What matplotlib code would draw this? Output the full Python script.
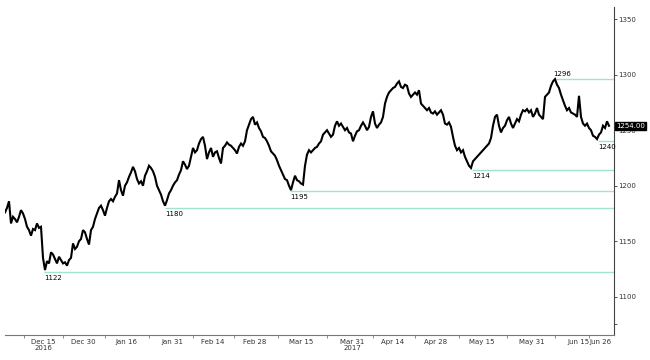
import matplotlib
matplotlib.use("Agg")
import matplotlib.pyplot as plt
import matplotlib.transforms as mtransforms
import numpy as np

# Price series (evenly spaced samples)
prices = [
    1176, 1180, 1186, 1166, 1172, 1170, 1167, 1172, 1178, 1175,
    1170, 1163, 1160, 1155, 1161, 1160, 1166, 1162, 1163, 1135,
    1124, 1132, 1130, 1140, 1138, 1134, 1130, 1136, 1133, 1130,
    1131, 1128, 1133, 1135, 1148, 1143, 1145, 1150, 1152, 1160,
    1158, 1152, 1147, 1160, 1163, 1170, 1175, 1180, 1182, 1178,
    1173, 1180, 1186, 1188, 1186, 1190, 1193, 1205, 1196, 1191,
    1200, 1203, 1208, 1212, 1217, 1213, 1206, 1202, 1204, 1200,
    1209, 1213, 1218, 1216, 1213, 1208, 1200, 1196, 1192, 1186,
    1182, 1187, 1193, 1196, 1200, 1203, 1205, 1210, 1214, 1222,
    1219, 1215, 1218, 1226, 1234, 1230, 1232, 1238, 1242, 1244,
    1236, 1224, 1230, 1234, 1226, 1230, 1231, 1225, 1220, 1234,
    1236, 1239, 1237, 1236, 1234, 1232, 1229, 1235, 1238, 1236,
    1240, 1250, 1255, 1260, 1262, 1255, 1257, 1252, 1249, 1244,
    1243, 1240, 1236, 1231, 1229, 1227, 1223, 1218, 1214, 1210,
    1206, 1205, 1200, 1196, 1203, 1209, 1205, 1204, 1202, 1201,
    1218, 1228, 1232, 1230, 1232, 1234, 1235, 1238, 1240, 1246,
    1248, 1250, 1247, 1244, 1246, 1254, 1258, 1254, 1256, 1253,
    1250, 1252, 1248, 1247, 1240, 1245, 1249, 1250, 1254, 1257,
    1254, 1250, 1253, 1262, 1267, 1256, 1252, 1255, 1257, 1262,
    1274, 1280, 1284, 1286, 1288, 1289, 1292, 1294, 1289, 1288,
    1291, 1290, 1283, 1280, 1282, 1284, 1282, 1286, 1274, 1272,
    1270, 1268, 1270, 1266, 1265, 1267, 1264, 1266, 1268, 1264,
    1256, 1255, 1257, 1253, 1244, 1236, 1232, 1234, 1230, 1232,
    1226, 1222, 1218, 1216, 1222, 1224, 1226, 1228, 1230, 1232,
    1234, 1236, 1238, 1243, 1254, 1262, 1264, 1254, 1248, 1252,
    1254, 1259, 1262, 1256, 1252, 1256, 1260, 1258, 1264, 1268,
    1267, 1269, 1266, 1268, 1262, 1265, 1270, 1264, 1262, 1260,
    1280, 1282, 1284, 1290, 1294, 1296, 1291, 1288, 1282, 1277,
    1272, 1268, 1270, 1266, 1265, 1264, 1262, 1281, 1262, 1256,
    1254, 1256, 1252, 1250, 1245, 1244, 1242, 1246, 1248, 1254,
    1252, 1258, 1254,
]

# Date tick labels and their sample positions
date_labels = ["Dec 15\n2016", "Dec 30", "Jan 16", "Jan 31", "Feb 14", "Feb 28",
               "Mar 15", "Mar 31\n2017", "Apr 14", "Apr 28", "May 15", "May 31",
               "Jun 15", "Jun 26"]
date_pos = [19, 39, 60.5, 83.5, 104, 125, 148, 173.5, 194, 215.5, 238.5,
            263.5, 286.5, 297.5]

# Support / resistance levels: (level, start sample, label above?)
levels = [1122, 1180, 1195, 1214, 1240, 1296]
level_start = [19.5, 80, 142.5, 233.5, 296.5, 274]
level_above = [False, False, False, False, False, True]

last_price = 1254.00
y_ticks = [1100, 1150, 1200, 1250, 1300, 1350]

fig = plt.figure(figsize=(6.5, 3.6), dpi=100)
ax = fig.add_axes([5 / 650, 1 - 335 / 360, 609 / 650, 328 / 360])

x = np.arange(len(prices))
ax.plot(x, prices, color="black", lw=1.5, solid_joinstyle="miter", zorder=3)

xmax = 304.5
ax.set_xlim(0, xmax)
ax.set_ylim(1065.5, 1361)

level_color = "#a3e3cc"
for lv, st, above in zip(levels, level_start, level_above):
    ax.hlines(lv, st, xmax, color=level_color, lw=1.0, zorder=2)
    if above:
        ax.text(st, lv + 1.5, f"{lv}", fontsize=5, ha="left", va="bottom",
                color="black")
    else:
        ax.text(st, lv - 2.5, f"{lv}", fontsize=5, ha="left", va="top",
                color="black")

for s in ["left", "top"]:
    ax.spines[s].set_visible(False)
ax.spines["bottom"].set_color("#777777")
ax.spines["right"].set_color("#444444")
ax.spines["bottom"].set_linewidth(0.8)
ax.spines["right"].set_linewidth(0.8)

ax.yaxis.tick_right()
ax.set_yticks(y_ticks)
ax.set_yticklabels([str(t) for t in y_ticks])
ax.set_yticks([1075], minor=True)
ax.tick_params(axis="y", which="both", direction="out", length=2, width=0.6,
               labelsize=5, pad=1, colors="#333333")

ax.set_xticks(date_pos)
ax.set_xticklabels(date_labels)
mids = [(a + b) / 2 for a, b in zip([0] + date_pos[:-1], date_pos)]
ax.set_xticks(mids, minor=True)
ax.tick_params(axis="x", which="major", length=0, labelsize=5, pad=3,
               colors="#333333")
ax.tick_params(axis="x", which="minor", direction="out", length=2, width=0.6,
               colors="#777777")
for lab in ax.get_xticklabels():
    lab.set_linespacing(1.0)

# last price marker box
trans = mtransforms.blended_transform_factory(ax.transAxes, ax.transData)
ax.text(1.004, last_price, f"{last_price:.2f}", transform=trans, fontsize=5,
        color="white", ha="left", va="center", zorder=5,
        bbox=dict(boxstyle="square,pad=0.15", fc="black", ec="black"))

fig.savefig("out.png", dpi=100, facecolor="white")
